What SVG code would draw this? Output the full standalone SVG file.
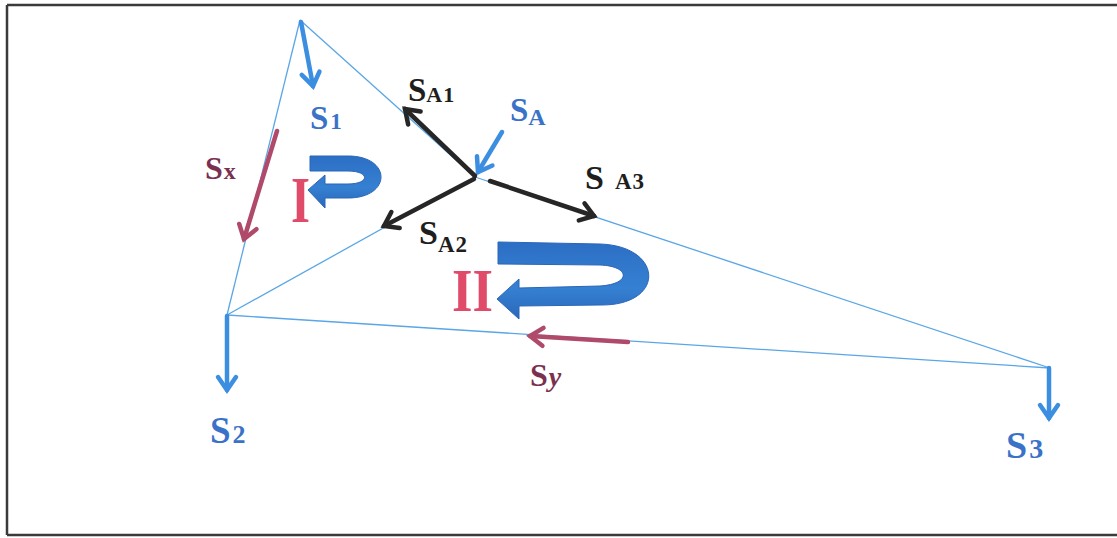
<svg xmlns="http://www.w3.org/2000/svg" width="1117" height="538" viewBox="0 0 1117 538">
<style>
.bar{stroke:#5aa6e6;stroke-width:1.3;fill:none}
.fb{stroke:#3b8ee0;stroke-width:4.5;fill:none;stroke-linecap:round}
.fk{stroke:#262626;stroke-width:4.5;fill:none;stroke-linecap:round}
.fm{stroke:#b04a6a;stroke-width:4.5;fill:none;stroke-linecap:round}
text{font-family:"Liberation Serif","DejaVu Serif",serif;font-weight:bold}
.tb{fill:#3a72c8}
.tk{fill:#1e1e1e}
.tm{fill:#7b3050}
.tr{fill:#e04b6a}
.rot{fill:url(#gr);stroke:#2a66b8;stroke-width:1}
</style>
<defs>
<marker id="hb" markerUnits="userSpaceOnUse" markerWidth="30" markerHeight="30" refX="0" refY="0" orient="auto" overflow="visible"><path d="M-13,-9 L0,0 L-13,9" fill="none" stroke="#3b8ee0" stroke-width="4.5" stroke-linecap="round" stroke-linejoin="miter"/></marker>
<marker id="hk" markerUnits="userSpaceOnUse" markerWidth="30" markerHeight="30" refX="0" refY="0" orient="auto" overflow="visible"><path d="M-13,-9 L0,0 L-13,9" fill="none" stroke="#262626" stroke-width="4.5" stroke-linecap="round" stroke-linejoin="miter"/></marker>
<marker id="hm" markerUnits="userSpaceOnUse" markerWidth="30" markerHeight="30" refX="0" refY="0" orient="auto" overflow="visible"><path d="M-13,-9 L0,0 L-13,9" fill="none" stroke="#b04a6a" stroke-width="4.5" stroke-linecap="round" stroke-linejoin="miter"/></marker>
<linearGradient id="gr" x1="0" y1="0" x2="0" y2="1"><stop offset="0" stop-color="#2c6fc4"/><stop offset="0.6" stop-color="#3580d2"/><stop offset="1" stop-color="#2a68ba"/></linearGradient>
</defs>
<rect width="1117" height="538" fill="#ffffff"/>
<g id="frame" stroke="#3a3a3a" stroke-width="2.5" fill="none">
<path d="M7,5 L1117,5"/>
<path d="M7,5 L7,535"/>
<path d="M7,535 L1117,535"/>
</g>
<g id="connectors">
<path class="bar" d="M300,20 L227,315"/>
<path class="bar" d="M300,20 L475,177"/>
<path class="bar" d="M475,177 L1050,368"/>
<path class="bar" d="M475,177 L227,315"/>
<path class="bar" d="M227,315 L1050,368"/>
</g>
<g id="node-top">
<path class="fb" d="M301,22 L313,86" marker-end="url(#hb)"/>
<text x="310" y="129"><tspan class="tb" font-size="33">S</tspan><tspan class="tb" font-size="23" dx="2">1</tspan></text>
</g>
<g id="node-A">
<path class="fb" d="M502,132 L478,172" marker-end="url(#hb)"/>
<path class="fk" d="M475,176 L405,109" marker-end="url(#hk)"/>
<path class="fk" d="M474,179 L384,226" marker-end="url(#hk)"/>
<path class="fk" d="M490,181 L594,216" marker-end="url(#hk)"/>
<text x="510" y="121"><tspan class="tb" font-size="33">S</tspan><tspan class="tb" font-size="24" dy="4">A</tspan></text>
<text x="408" y="101"><tspan class="tk" font-size="33">S</tspan><tspan class="tk" font-size="22" dy="1" letter-spacing="1">A1</tspan></text>
<text x="419" y="244"><tspan class="tk" font-size="34">S</tspan><tspan class="tk" font-size="23" dy="8" letter-spacing="1">A2</tspan></text>
<text x="585" y="189"><tspan class="tk" font-size="34">S</tspan><tspan class="tk" font-size="23" dx="11" letter-spacing="1">A3</tspan></text>
</g>
<g id="node-S2">
<path class="fb" d="M227,316 L227,390" marker-end="url(#hb)"/>
<text x="210" y="443"><tspan class="tb" font-size="37">S</tspan><tspan class="tb" font-size="26" dx="2">2</tspan></text>
</g>
<g id="node-S3">
<path class="fb" d="M1049,368 L1049,418" marker-end="url(#hb)"/>
<text x="1006" y="458"><tspan class="tb" font-size="38">S</tspan><tspan class="tb" font-size="28" dx="2">3</tspan></text>
</g>
<g id="force-Sx">
<path class="fm" d="M277,131 L244,239" marker-end="url(#hm)"/>
<text x="205" y="179"><tspan class="tm" font-size="32">S</tspan><tspan class="tm" font-size="24" dx="1">x</tspan></text>
</g>
<g id="force-Sy">
<path class="fm" d="M628,342 L530,336" marker-end="url(#hm)"/>
<text x="530" y="386"><tspan class="tm" font-size="32">S</tspan><tspan class="tm" font-size="28" font-style="italic" dx="1">y</tspan></text>
</g>
<g id="loop-I">
<path class="rot" d="M310,156 L348,156 C392,156 392,198 348,198 L325,198 L325,208 L308,190 L325,175 L325,184 L348,184 C370,184 370,171 348,171 L310,171 Z"/>
<text class="tr" x="291" y="222" font-size="66" textLength="19" lengthAdjust="spacingAndGlyphs">I</text>
</g>
<g id="loop-II">
<path class="rot" d="M498,242 L600,244 C664,246 666,306 600,305 L519,306 L519,319 L497,299 L519,279 L519,288 L600,286 C632,284 630,266 600,265 L498,264 Z"/>
<text class="tr" x="452" y="311" font-size="61" textLength="41" lengthAdjust="spacingAndGlyphs">II</text>
</g>
</svg>
